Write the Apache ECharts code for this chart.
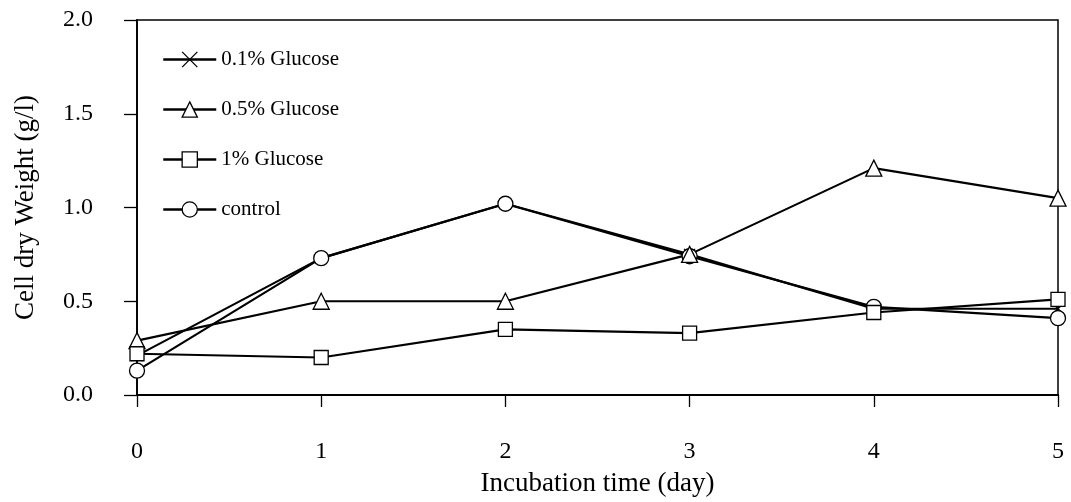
<!DOCTYPE html>
<html><head><meta charset="utf-8">
<script src="https://cdn.jsdelivr.net/npm/echarts@6/dist/echarts.min.js"></script>
<style>html,body{margin:0;padding:0;background:#fff}#c{width:1071px;height:502px}</style>
</head><body><div id="c"></div>
<script>
const days = [0, 1, 2, 3, 4, 5];
const glucose01 = [0.21, 0.73, 1.02, 0.75, 0.46, 0.46];
const glucose05 = [0.29, 0.50, 0.50, 0.75, 1.21, 1.05];
const glucose1 = [0.22, 0.20, 0.35, 0.33, 0.44, 0.51];
const control = [0.13, 0.73, 1.02, 0.74, 0.47, 0.41];
const seriesNames = ['0.1% Glucose', '0.5% Glucose', '1% Glucose', 'control'];
const xTitle = 'Incubation time (day)';
const yTitle = 'Cell dry Weight (g/l)';

const FONT = 'Liberation Serif';
const pair = arr => days.map((d, i) => [d, arr[i]]);
const crossPath = 'path://M0,0L10,10M10,0L0,10';
function mk(name, data, symbol, size) {
  return {
    name, type: 'line', data: pair(data), symbol, symbolSize: size,
    lineStyle: { color: '#000', width: 2.2 },
    itemStyle: { color: symbol === crossPath ? 'none' : '#fff', borderColor: '#000', borderWidth: 1.3 },
    emphasis: { disabled: true }, animation: false
  };
}
const chart = echarts.init(document.getElementById('c'));
chart.setOption({
  backgroundColor: '#fff',
  animation: false,
  textStyle: { fontFamily: FONT },
  grid: { left: 137, right: 13, top: 20, bottom: 107, show: true, borderColor: '#000', borderWidth: 1.5, outerBoundsMode: 'none', containLabel: false },
  legend: {
    orient: 'vertical', left: 157, top: 44, itemGap: 29, itemWidth: 53, itemHeight: 19,
    lineStyle: { width: 2.5, color: '#000' },
    itemStyle: { borderWidth: 1.3, borderColor: '#000' },
    textStyle: { fontFamily: FONT, fontSize: 21, color: '#000' },
    data: seriesNames
  },
  xAxis: {
    type: 'value', min: 0, max: 5, interval: 1,
    name: xTitle, nameLocation: 'middle', nameGap: 75,
    nameTextStyle: { fontFamily: FONT, fontSize: 27, color: '#000' },
    axisLine: { lineStyle: { color: '#000', width: 1.8 } },
    axisTick: { show: true, length: 12, lineStyle: { color: '#000', width: 1.3 } },
    axisLabel: { margin: 45, fontFamily: FONT, fontSize: 24, color: '#000' },
    splitLine: { show: false }
  },
  yAxis: {
    type: 'value', min: 0, max: 2, interval: 0.5,
    name: yTitle, nameLocation: 'middle', nameGap: 98, nameRotate: 90,
    nameTextStyle: { fontFamily: FONT, fontSize: 27, color: '#000' },
    axisLine: { show: true, lineStyle: { color: '#000', width: 1.8 } },
    axisTick: { show: true, length: 13, lineStyle: { color: '#000', width: 1.3 } },
    axisLabel: { margin: 44, fontFamily: FONT, fontSize: 24, color: '#000', formatter: v => v.toFixed(1) },
    splitLine: { show: false }
  },
  series: [
    mk(seriesNames[0], glucose01, crossPath, 11),
    mk(seriesNames[3], control, 'circle', 15),
    mk(seriesNames[1], glucose05, 'triangle', 16),
    mk(seriesNames[2], glucose1, 'rect', 14)
  ]
});
</script></body></html>
